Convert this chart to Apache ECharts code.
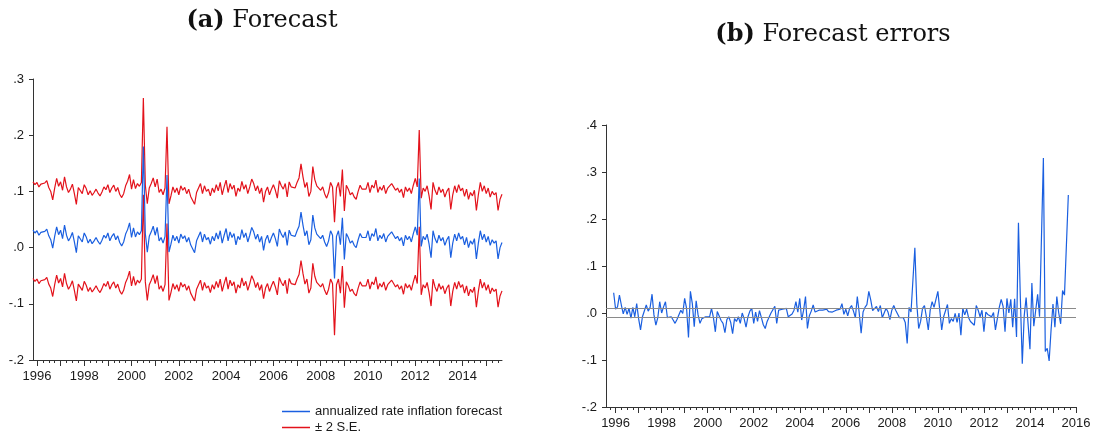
<!DOCTYPE html>
<html>
<head>
<meta charset="utf-8">
<script src="https://cdn.jsdelivr.net/npm/echarts@6/dist/echarts.min.js"></script>
<style>
  html, body { margin: 0; padding: 0; background: #fff; }
  #chart { width: 1095px; height: 441px; }
</style>
</head>
<body>
<div id="chart"></div>
<script>
// Panel (a): monthly forecast of annualized inflation with its ±2 S.E. band
const forecastStart = '1995-11';
const forecast = [
  .031,.026,.030,.022,.027,.024,.029,.033,.021,.014,-.001,.020,.037,.023,.031,.016,.040,.022,.012,.018,
  .027,.010,-.009,.021,.018,.010,.026,.019,.008,.015,.007,.012,.018,.011,.006,.013,.022,.017,.026,.012,
  .020,.025,.014,.021,.009,.003,.010,.024,.032,.044,.018,.035,.019,.028,.023,.030,.180,.025,-.008,.020,
  .028,.038,.022,.036,.012,.018,.008,.020,.129,-.008,.006,.022,.012,.020,.008,.024,.016,.021,.010,.018,
  .005,.002,-.009,.012,.020,.028,.010,.024,.014,.018,.006,.020,.012,.026,.015,.030,.008,.022,.034,.012,
  .028,.018,.025,.005,.020,.014,.032,.018,.026,.010,.022,.036,.028,.015,.024,.010,.020,-.005,.014,.022,
  .008,.018,.026,.016,.002,.033,.024,.018,.028,.004,.031,.022,.025,.020,.030,.038,.063,.040,.021,.030,
  .005,.014,.058,.035,.024,.020,.016,.022,.010,.002,.012,.030,.022,-.055,.020,.030,.005,.053,-.021,.025,
  .018,.008,.012,.004,.000,.014,.025,.018,.015,.018,.030,.012,.025,.020,.034,.012,.022,.016,.025,.010,
  .020,.018,.028,.022,.016,.020,.012,.018,.003,.022,.014,.020,.010,.025,.037,.022,.123,.002,.020,.014,
  .024,.006,-.018,.030,.016,.008,.022,.012,.018,.004,.014,.020,-.018,.008,.024,.012,.026,.015,.020,.005,
  .018,.000,.012,.006,.016,-.020,.008,.030,.014,.024,.010,.020,.004,.014,.008,.012,-.020,.000,.009
];
const upperBand = [
  .117,.112,.116,.108,.113,.110,.115,.119,.107,.100,.085,.106,.123,.109,.117,.102,.126,.108,.098,.104,
  .113,.096,.077,.107,.104,.096,.112,.105,.094,.101,.093,.098,.104,.097,.092,.099,.108,.103,.112,.098,
  .106,.111,.100,.107,.095,.089,.096,.110,.118,.130,.104,.121,.105,.114,.109,.116,.266,.111,.078,.106,
  .114,.124,.108,.122,.098,.104,.094,.106,.215,.078,.092,.108,.098,.106,.094,.110,.102,.107,.096,.104,
  .091,.088,.077,.098,.106,.114,.096,.110,.100,.104,.092,.106,.098,.112,.101,.116,.094,.108,.120,.098,
  .114,.104,.111,.091,.106,.100,.118,.104,.112,.096,.108,.122,.114,.101,.110,.096,.106,.081,.100,.108,
  .094,.104,.112,.102,.088,.119,.110,.104,.114,.090,.117,.108,.111,.106,.116,.124,.149,.126,.107,.116,
  .091,.100,.144,.121,.110,.106,.102,.108,.096,.088,.098,.116,.108,.045,.106,.116,.091,.139,.065,.111,
  .104,.094,.098,.090,.086,.100,.111,.104,.101,.104,.116,.098,.111,.106,.120,.098,.108,.102,.111,.096,
  .106,.104,.114,.108,.102,.106,.098,.104,.089,.108,.100,.106,.096,.111,.123,.108,.209,.088,.106,.100,
  .110,.092,.068,.116,.102,.094,.108,.098,.104,.090,.100,.106,.068,.094,.110,.098,.112,.101,.106,.091,
  .104,.086,.098,.092,.102,.066,.094,.116,.100,.110,.096,.106,.090,.100,.094,.098,.066,.086,.095
];
const lowerBand = [
  -.055,-.060,-.056,-.064,-.059,-.062,-.057,-.053,-.065,-.072,-.087,-.066,-.049,-.063,-.055,-.070,-.046,-.064,-.074,-.068,
  -.059,-.076,-.095,-.065,-.068,-.076,-.060,-.067,-.078,-.071,-.079,-.074,-.068,-.075,-.080,-.073,-.064,-.069,-.060,-.074,
  -.066,-.061,-.072,-.065,-.077,-.083,-.076,-.062,-.054,-.042,-.068,-.051,-.067,-.058,-.063,-.056,.094,-.061,-.094,-.066,
  -.058,-.048,-.064,-.050,-.074,-.068,-.078,-.066,.043,-.094,-.080,-.064,-.074,-.066,-.078,-.062,-.070,-.065,-.076,-.068,
  -.081,-.084,-.095,-.074,-.066,-.058,-.076,-.062,-.072,-.068,-.080,-.066,-.074,-.060,-.071,-.056,-.078,-.064,-.052,-.074,
  -.058,-.068,-.061,-.081,-.066,-.072,-.054,-.068,-.060,-.076,-.064,-.050,-.058,-.071,-.062,-.076,-.066,-.091,-.072,-.064,
  -.078,-.068,-.060,-.070,-.084,-.053,-.062,-.068,-.058,-.082,-.055,-.064,-.061,-.066,-.056,-.048,-.023,-.046,-.065,-.056,
  -.081,-.072,-.028,-.051,-.062,-.066,-.070,-.064,-.076,-.084,-.074,-.056,-.064,-.156,-.066,-.056,-.081,-.033,-.107,-.061,
  -.068,-.078,-.074,-.082,-.086,-.072,-.061,-.068,-.071,-.068,-.056,-.074,-.061,-.066,-.052,-.074,-.064,-.070,-.061,-.076,
  -.066,-.068,-.058,-.064,-.070,-.066,-.074,-.068,-.083,-.064,-.072,-.066,-.076,-.061,-.049,-.064,.037,-.084,-.066,-.072,
  -.062,-.080,-.104,-.056,-.070,-.078,-.064,-.074,-.068,-.082,-.072,-.066,-.104,-.078,-.062,-.074,-.060,-.071,-.066,-.081,
  -.068,-.086,-.074,-.080,-.070,-.106,-.078,-.056,-.072,-.062,-.076,-.066,-.082,-.072,-.078,-.074,-.106,-.086,-.077
];

// Panel (b): monthly forecast errors
const errorsStart = '1995-12';
const forecastErrors = [
  .043,.008,.013,.038,.017,-.002,.012,-.003,.010,-.011,.012,-.008,.020,-.012,-.036,-.008,-.010,.017,.004,.012,
  .040,-.004,-.026,-.010,.024,.000,.013,.024,-.010,-.014,-.008,-.015,-.022,-.014,-.016,.006,-.001,.031,.010,-.052,
  .046,.020,-.029,.026,-.004,-.022,-.012,-.015,-.008,-.012,-.008,.010,-.010,-.040,.003,.003,-.016,-.022,-.042,-.014,
  -.008,-.020,-.044,-.012,-.018,-.008,-.022,.000,-.012,-.030,-.008,.004,.010,-.022,.002,-.018,.005,-.010,-.025,-.033,
  -.018,-.018,.000,-.002,.014,-.022,.006,.008,.008,.012,.010,-.008,-.004,-.002,.006,.024,.002,.031,-.015,.006,
  .035,-.033,-.006,.004,.017,.002,-.002,.006,.004,.006,.002,.008,.003,.005,.002,.004,.006,.003,.008,.020,
  -.003,.008,-.006,.010,.016,.004,-.010,.035,.000,-.043,.002,.012,.018,.046,.028,.005,.006,.014,.003,.016,
  -.010,-.008,.010,.002,-.014,.006,.016,.006,.005,-.010,-.010,-.010,-.020,-.065,.012,.002,.006,.139,.020,-.033,
  -.018,.010,.016,-.008,-.036,.006,.024,.012,.014,.046,.006,-.036,-.008,-.004,.018,-.022,-.012,-.018,-.001,-.020,
  .000,-.047,.010,-.004,.008,-.010,-.018,-.016,-.026,.016,.006,-.008,.006,-.040,.002,-.003,-.002,-.008,.001,-.036,
  -.032,.012,.029,.014,-.040,.031,.000,.029,-.030,.030,-.051,.192,.030,-.108,-.006,.033,.029,-.077,.064,-.028,
  -.026,.040,-.008,-.007,.330,-.082,-.075,-.102,-.036,.019,-.030,.035,.000,-.023,.048,.038,.038,.251
];
const errorReferenceLines = [-0.005, 0.005];

// Axis spans (first and last month on each time axis) and value axis ranges
const leftAxisMonths = ['1995-11', '2015-09'];
const rightAxisMonths = ['1995-08', '2016-01'];
const leftValueRange = [-0.2, 0.3];
const rightValueRange = [-0.2, 0.4];

const titleA = '(a)', titleAText = 'Forecast';
const titleB = '(b)', titleBText = 'Forecast errors';
const nameForecast = 'annualized rate inflation forecast';
const nameBand = '\u00b1 2 S.E.';

const BLUE = '#1a5fe0';
const RED = '#e3121b';
const AXIS = '#333';
const TEXT = '#1a1a1a';
const SANS = '"Liberation Sans", Arial, sans-serif';
const SERIF = '"DejaVu Serif", serif';

function monthRange(from, to) {
  let [y, m] = from.split('-').map(Number);
  const [ye, me] = to.split('-').map(Number);
  const out = [];
  while (y < ye || (y === ye && m <= me)) {
    out.push(y + '-' + String(m).padStart(2, '0'));
    m++; if (m > 12) { m = 1; y++; }
  }
  return out;
}

// Place a series that starts at a given month onto an axis' month list
function alignToAxis(cats, start, values) {
  const off = cats.indexOf(start);
  return cats.map((c, i) => {
    const k = i - off;
    return k >= 0 && k < values.length ? values[k] : null;
  });
}

const leftCats = monthRange(leftAxisMonths[0], leftAxisMonths[1]);
const rightCats = monthRange(rightAxisMonths[0], rightAxisMonths[1]);

const monthOf = v => Number(v.slice(5, 7));
const yearOf = v => Number(v.slice(0, 4));
const isQuarterStart = v => (monthOf(v) - 1) % 3 === 0;
const isYearStart = v => monthOf(v) === 1;
const isLabelled = v => monthOf(v) === 1 && yearOf(v) % 2 === 0;

const fmtValue = v => {
  const s = Math.abs(v) < 1e-9 ? '0.0' : v.toFixed(1);
  return s.replace('0.', '.');
};

function timeAxis(grid, cats, withLabels, tickLen, tickTest) {
  return {
    gridIndex: grid, type: 'category', data: cats, boundaryGap: false, position: 'bottom',
    axisLine: { show: withLabels, onZero: false, lineStyle: { color: AXIS, width: 1 } },
    axisTick: { show: true, length: tickLen, interval: (i, v) => tickTest(v), lineStyle: { color: AXIS, width: 1 } },
    axisLabel: {
      show: withLabels, interval: (i, v) => isLabelled(v), formatter: v => v.slice(0, 4),
      color: TEXT, fontSize: 13, fontFamily: SANS, margin: 10
    },
    splitLine: { show: false }, axisPointer: { show: false }
  };
}

function valueAxis(grid, range) {
  return {
    gridIndex: grid, type: 'value', min: range[0], max: range[1], interval: 0.1,
    axisLine: { show: true, lineStyle: { color: AXIS, width: 1 } },
    axisTick: { show: true, length: 4, lineStyle: { color: AXIS, width: 1 } },
    axisLabel: { formatter: fmtValue, color: TEXT, fontSize: 13, fontFamily: SANS, margin: 9 },
    splitLine: { show: false }
  };
}

function lineSeries(name, x, y, data, color) {
  return {
    name, type: 'line', xAxisIndex: x, yAxisIndex: y, data,
    showSymbol: false, symbol: 'none', smooth: false, connectNulls: false,
    lineStyle: { color, width: 1.2 }, itemStyle: { color },
    emphasis: { disabled: true }, animation: false
  };
}

function legendRow(name, top) {
  return {
    data: [name], orient: 'horizontal', left: 282, top,
    icon: 'rect', itemWidth: 28, itemHeight: 1.5, padding: 0,
    textStyle: { color: TEXT, fontSize: 13, fontFamily: SANS },
    selectedMode: false
  };
}

const chart = echarts.init(document.getElementById('chart'), null, { renderer: 'canvas' });

const errorSeries = lineSeries('errors', 2, 1, alignToAxis(rightCats, errorsStart, forecastErrors), BLUE);
errorSeries.markLine = {
  silent: true, symbol: 'none', animation: false,
  label: { show: false },
  lineStyle: { color: '#8a8a8a', type: 'solid', width: 1 },
  data: errorReferenceLines.map(v => ({ yAxis: v }))
};

chart.setOption({
  backgroundColor: '#fff',
  animation: false,
  grid: [
    { left: 33, right: 593, top: 79, bottom: 81 },
    { left: 606, right: 19, top: 125, bottom: 34 }
  ],
  xAxis: [
    timeAxis(0, leftCats, true, 3, isQuarterStart),
    timeAxis(0, leftCats, false, 6, isYearStart),
    timeAxis(1, rightCats, true, 3, isQuarterStart),
    timeAxis(1, rightCats, false, 6, isYearStart)
  ],
  yAxis: [valueAxis(0, leftValueRange), valueAxis(1, rightValueRange)],
  legend: [legendRow(nameForecast, 405), legendRow(nameBand, 421)],
  series: [
    lineSeries(nameBand, 0, 0, alignToAxis(leftCats, forecastStart, upperBand), RED),
    lineSeries(nameBand, 0, 0, alignToAxis(leftCats, forecastStart, lowerBand), RED),
    lineSeries(nameForecast, 0, 0, alignToAxis(leftCats, forecastStart, forecast), BLUE),
    errorSeries
  ],
  graphic: [
    {
      type: 'text', x: 262, y: 21, silent: true,
      style: {
        text: '{b|' + titleA + '} ' + titleAText, align: 'center', verticalAlign: 'middle',
        fontSize: 24, fontFamily: SERIF, fill: '#111',
        rich: { b: { fontWeight: 'bold', fontSize: 24, fontFamily: SERIF, fill: '#111' } }
      }
    },
    {
      type: 'text', x: 833, y: 35, silent: true,
      style: {
        text: '{b|' + titleB + '} ' + titleBText, align: 'center', verticalAlign: 'middle',
        fontSize: 24, fontFamily: SERIF, fill: '#111',
        rich: { b: { fontWeight: 'bold', fontSize: 24, fontFamily: SERIF, fill: '#111' } }
      }
    }
  ]
});
</script>
</body>
</html>
